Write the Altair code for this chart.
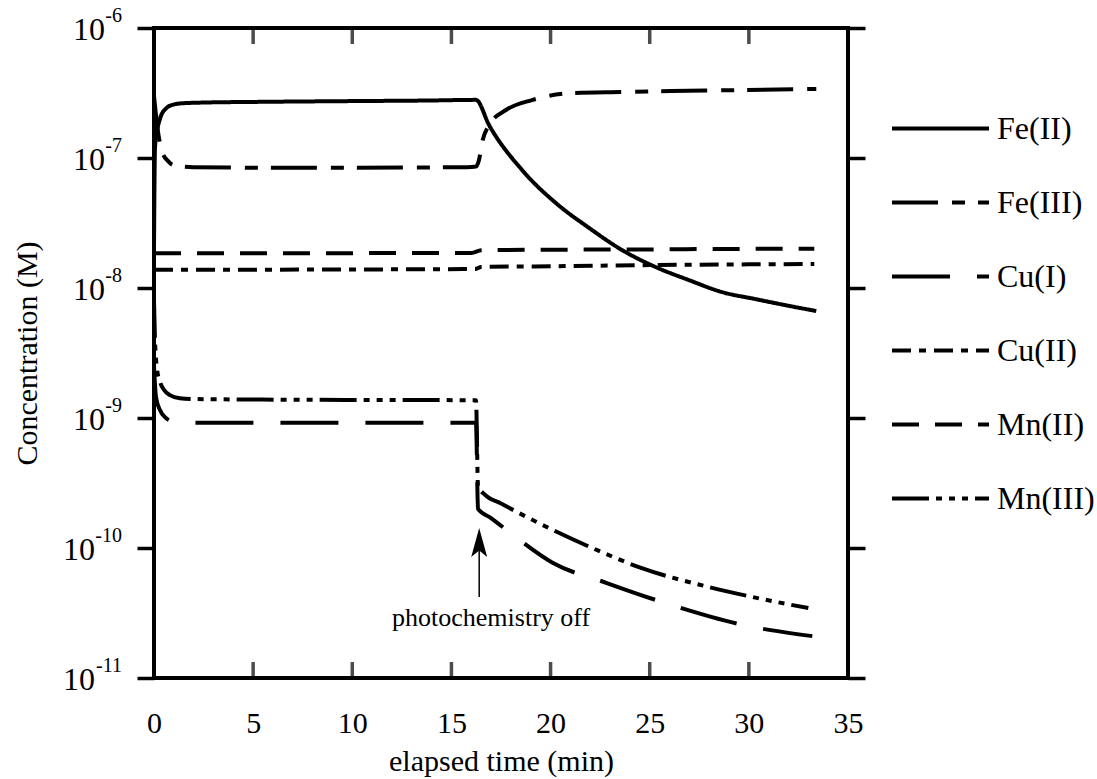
import altair as alt
import pandas as pd

FONT = "Liberation Serif"

names = ["Fe(II)", "Fe(III)", "Cu(I)", "Cu(II)", "Mn(II)", "Mn(III)"]
dashes = [[1, 0], [46, 14, 13, 13], [58, 27], [19, 8, 7, 8], [27, 16],
          [37, 7, 6, 7, 6, 7, 6, 7]]

x_ticks = [0, 5, 10, 15, 20, 25, 30, 35]
x_inner_ticks = [5, 10, 15, 20, 25, 30]
y_ticks = [1e-11, 1e-10, 1e-9, 1e-8, 1e-7, 1e-6]
y_exp_short = [1e-9, 1e-8, 1e-7, 1e-6]
y_exp_short_text = ["-9", "-8", "-7", "-6"]
y_exp_long = [1e-11, 1e-10]
y_exp_long_text = ["-11", "-10"]

fe2_t = [0, 0.05, 0.15, 0.3, 0.6, 1.0, 1.5, 2.5, 5, 10, 14, 16.24, 16.9, 18.56,
         20.27, 21.94, 23.6, 25.3, 26.98, 28.65, 30.36, 32.0, 33.4]
fe2_v = [2e-8, 1.2e-7, 1.6e-7, 2.0e-7, 2.4e-7, 2.58e-7, 2.64e-7, 2.67e-7, 2.7e-7,
         2.74e-7, 2.77e-7, 2.8e-7, 1.79e-7, 8.09e-8, 4.5e-8, 2.9e-8, 1.96e-8,
         1.45e-8, 1.15e-8, 9.3e-9, 8.2e-9, 7.3e-9, 6.65e-9]

fe3_t = [0, 0.2, 0.4, 0.7, 1.0, 2, 8, 15.8, 16.24, 16.39, 16.54, 16.9, 17.75, 19.06,
         21.08, 23.6, 26.1, 29.5, 33.4]
fe3_v = [3e-7, 1.6e-7, 1.13e-7, 9.5e-8, 8.8e-8, 8.5e-8, 8.4e-8, 8.5e-8, 8.6e-8,
         9.66e-8, 1.3e-7, 1.79e-7, 2.34e-7, 2.79e-7, 3.16e-7, 3.22e-7, 3.28e-7,
         3.33e-7, 3.4e-7]

cu1_t = [0, 0.1, 0.3, 0.6, 1.0, 2, 8, 16.24, 16.34, 17.0, 18.1, 20.1, 22.8, 26.2,
         29.5, 33.2]
cu1_v = [2.5e-9, 1.45e-9, 1.15e-9, 1.0e-9, 9.4e-10, 9.2e-10, 9.2e-10, 9.2e-10,
         2.0e-10, 1.7e-10, 1.26e-10, 7.7e-11, 5.4e-11, 3.6e-11, 2.6e-11, 2.1e-11]

cu2_t = [0, 16.2, 16.5, 20, 25, 30, 33.3]
cu2_v = [1.38e-8, 1.40e-8, 1.45e-8, 1.47e-8, 1.50e-8, 1.52e-8, 1.53e-8]

mn2_t = [0, 16.0, 16.5, 17, 20, 25, 30, 33.3]
mn2_v = [1.85e-8, 1.86e-8, 1.95e-8, 1.96e-8, 1.97e-8, 1.98e-8, 2.0e-8, 2.0e-8]

mn3_t = [0, 0.05, 0.15, 0.3, 0.5, 0.8, 1.3, 2, 8, 16.24, 16.34, 16.7, 17.5, 18.4,
         20.1, 22.1, 24.6, 28, 30.5, 33.0]
mn3_v = [8e-9, 4e-9, 2.4e-9, 1.9e-9, 1.65e-9, 1.5e-9, 1.42e-9, 1.4e-9, 1.38e-9,
         1.37e-9, 3.0e-10, 2.56e-10, 2.2e-10, 1.86e-10, 1.38e-10, 1.0e-10, 7.0e-11,
         5.0e-11, 4.1e-11, 3.45e-11]

annot_text = ["photochemistry off"]
annot_t = [17.0]
annot_v = [2.9e-11]
arrow_t = [16.4]
arrow_lo = [4.2e-11]
arrow_hi = [1.15e-10]
arrow_head_v = [1.1e-10]

series = [("Fe(II)", fe2_t, fe2_v), ("Fe(III)", fe3_t, fe3_v), ("Cu(I)", cu1_t, cu1_v),
          ("Cu(II)", cu2_t, cu2_v), ("Mn(II)", mn2_t, mn2_v), ("Mn(III)", mn3_t, mn3_v)]
rows = []
for name, ts, vs in series:
    for t, v in zip(ts, vs):
        rows.append({"species": name, "t": t, "c": v})
df = pd.DataFrame(rows)

W, H = 694, 650
x_scale = alt.Scale(domain=[0, 35], nice=False, zero=False)
y_scale = alt.Scale(type="log", domain=[1e-11, 1e-6], nice=False)

x_axis = alt.Axis(values=x_ticks, ticks=False, domain=False, grid=False,
                  labelFont=FONT, labelFontSize=30, labelColor="black",
                  labelPadding=30, labelFlush=False, labelOverlap=False,
                  title="elapsed time (min)", titleFont=FONT, titleFontSize=30,
                  titleFontWeight="normal", titleColor="black", titlePadding=8)


def xenc(field="t"):
    return alt.X(f"{field}:Q", scale=x_scale, axis=x_axis, title="elapsed time (min)")


lines = alt.Chart(df).mark_line(strokeWidth=4, color="black", interpolate="monotone",
                                strokeCap="butt").encode(
    x=xenc(),
    y=alt.Y("c:Q", scale=y_scale,
            axis=alt.Axis(values=y_ticks, labels=False, tickSize=17, tickWidth=3.5,
                          tickColor="black", domain=False, grid=False,
                          title="Concentration (M)", titleFont=FONT, titleFontSize=30,
                          titleFontWeight="normal", titleColor="black", titlePadding=93)),
    strokeDash=alt.StrokeDash("species:N", sort=names,
                              scale=alt.Scale(domain=names, range=dashes),
                              legend=alt.Legend(title=None, orient="none", legendX=736,
                                                legendY=50, symbolType="stroke",
                                                symbolSize=9409, symbolStrokeWidth=4,
                                                symbolStrokeColor="black",
                                                labelFont=FONT, labelFontSize=32,
                                                labelColor="black", labelOffset=6,
                                                rowPadding=7)),
)

xt_df = pd.DataFrame({"t": x_inner_ticks, "lo": [1e-11] * 6, "hi": [1e-6] * 6})
bottom_ticks = alt.Chart(xt_df).mark_tick(color="black", thickness=3.5, size=16,
                                          yOffset=-8, orient="vertical").encode(
    x=xenc(),
    y=alt.Y("lo:Q", scale=y_scale, axis=None),
)
top_ticks = alt.Chart(xt_df).mark_tick(color="black", thickness=3.5, size=16,
                                       yOffset=8, orient="vertical").encode(
    x=xenc(),
    y=alt.Y("hi:Q", scale=y_scale, axis=None),
)

yt_df = pd.DataFrame({"v": y_ticks, "t": [35] * 6})
right_axis = alt.Chart(yt_df).mark_point(opacity=0).encode(
    x=xenc(),
    y=alt.Y("v:Q", scale=y_scale,
            axis=alt.Axis(orient="right", values=y_ticks, labels=False, tickSize=17,
                          tickWidth=3.5, tickColor="black", domain=False, grid=False,
                          title=None)),
)

# y tick labels: "10" with a raised exponent
short_df = pd.DataFrame({"v": y_exp_short, "e": y_exp_short_text,
                         "t": [0] * len(y_exp_short)})
long_df = pd.DataFrame({"v": y_exp_long, "e": y_exp_long_text,
                        "t": [0] * len(y_exp_long)})


def base_label(d, dx):
    return alt.Chart(d).mark_text(font=FONT, fontSize=32, color="black", align="right",
                                  baseline="middle", dx=dx, dy=2).encode(
        x=xenc(), y=alt.Y("v:Q", scale=y_scale, axis=None), text=alt.value("10"))


def exp_label(d):
    return alt.Chart(d).mark_text(font=FONT, fontSize=20, color="black", align="right",
                                  baseline="middle", dx=-32, dy=-12).encode(
        x=xenc(), y=alt.Y("v:Q", scale=y_scale, axis=None), text="e:N")


ylab = [base_label(short_df, -49), base_label(long_df, -59), exp_label(short_df),
        exp_label(long_df)]

arrow_df = pd.DataFrame({"t": arrow_t, "lo": arrow_lo, "hi": arrow_hi,
                         "head": arrow_head_v})
arrow_line = alt.Chart(arrow_df).mark_rule(color="black", strokeWidth=1.5).encode(
    x=xenc(),
    y=alt.Y("lo:Q", scale=y_scale, axis=None),
    y2="hi:Q",
)
arrow_head = alt.Chart(arrow_df).mark_point(
    shape="M0,-1L0.55,1L0,0.55L-0.55,1Z", size=841, filled=True, color="black",
    opacity=1).encode(
    x=xenc(),
    y=alt.Y("head:Q", scale=y_scale, axis=None),
)

annot_df = pd.DataFrame({"t": annot_t, "v": annot_v, "text": annot_text})
annot = alt.Chart(annot_df).mark_text(font=FONT, fontSize=26, color="black",
                                      baseline="middle", align="center").encode(
    x=xenc(),
    y=alt.Y("v:Q", scale=y_scale, axis=None),
    text="text:N",
)

chart = alt.layer(lines, bottom_ticks, top_ticks, right_axis, arrow_line, arrow_head,
                  annot, *ylab).resolve_axis(y="independent").properties(
    width=W, height=H,
    autosize=alt.AutoSizeParams(type="none"),
    padding={"left": 154, "top": 28, "right": 249, "bottom": 101},
    background="white",
).configure_view(stroke="black", strokeWidth=4)

chart.save("out.html", embed_options={"renderer": "svg", "actions": False})
